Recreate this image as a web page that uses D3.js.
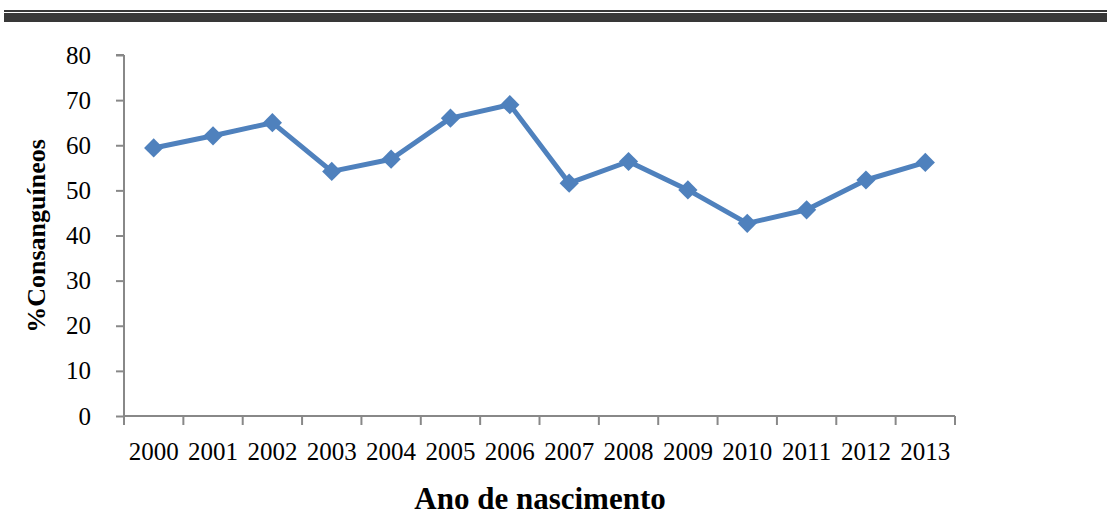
<!DOCTYPE html>
<html>
<head>
<meta charset="utf-8">
<script src="https://cdn.jsdelivr.net/npm/d3@7"></script>
<style>
  body { margin: 0; background: #fff; }
  svg { display: block; }
  .tick text { font-family: "Liberation Serif", serif; font-size: 25px; fill: #000; }
</style>
</head>
<body>
<svg id="chart"></svg>
<script>
const years = ['2000', '2001', '2002', '2003', '2004', '2005', '2006', '2007', '2008', '2009', '2010', '2011', '2012', '2013'];
const values = [59.4, 62.1, 65.0, 54.2, 56.9, 66.0, 69.0, 51.6, 56.4, 50.1, 42.7, 45.7, 52.3, 56.2];
const yTicks = [0, 10, 20, 30, 40, 50, 60, 70, 80];

const W = 1107;
const H = 515;
const MARGIN = { left: 124, right: 152, top: 55, bottom: 99 };
const plotW = W - MARGIN.left - MARGIN.right;
const plotH = H - MARGIN.top - MARGIN.bottom;
const axisColor = '#888';
const lineColor = '#4F81BD';

const svg = d3.select('#chart').attr('width', W).attr('height', H);

// Decorative header rules
svg.append('rect').attr('x', 4).attr('y', 10).attr('width', W - 4).attr('height', 2).attr('fill', '#383838');
svg.append('rect').attr('x', 4).attr('y', 13).attr('width', W - 4).attr('height', 9).attr('fill', '#383838');

const g = svg.append('g').attr('transform', `translate(${MARGIN.left}, ${MARGIN.top})`);

const x = d3.scaleBand().domain(years).range([0, plotW]);
const y = d3.scaleLinear().domain([0, 80]).range([plotH, 0]);

// Y axis
const yAxis = g.append('g')
  .call(d3.axisLeft(y).tickValues(yTicks).tickSize(8).tickPadding(25));
yAxis.selectAll('line, path').attr('stroke', axisColor).attr('stroke-width', 2);
yAxis.select('.domain').attr('d', `M0,${plotH}V0M-8,0H0`);
yAxis.selectAll('.tick text').attr('dy', '0.32em');

// X axis with ticks on category boundaries
const xAxis = g.append('g')
  .attr('transform', `translate(0, ${plotH})`)
  .call(d3.axisBottom(x).tickSize(0).tickPadding(26));
xAxis.select('.domain').attr('stroke', axisColor).attr('stroke-width', 2).attr('d', `M0,0H${plotW}`);
xAxis.selectAll('.tick text').attr('dy', '0.71em');
const bounds = years.map(d => x(d)).concat([plotW]);
xAxis.selectAll('.bound')
  .data(bounds)
  .join('line')
  .attr('class', 'bound')
  .attr('x1', d => d).attr('x2', d => d)
  .attr('y1', 0).attr('y2', 9)
  .attr('stroke', axisColor)
  .attr('stroke-width', 2);

// Line
const line = d3.line()
  .x((d, i) => x(years[i]) + x.bandwidth() / 2)
  .y(d => y(d));

g.append('path')
  .datum(values)
  .attr('d', line)
  .attr('fill', 'none')
  .attr('stroke', lineColor)
  .attr('stroke-width', 5)
  .attr('stroke-linejoin', 'round');

// Diamond markers
const diamond = d3.symbol().type(d3.symbolSquare).size(185);
g.selectAll('.marker')
  .data(values)
  .join('path')
  .attr('class', 'marker')
  .attr('d', diamond)
  .attr('transform', (d, i) => `translate(${x(years[i]) + x.bandwidth() / 2}, ${y(d)}) rotate(45)`)
  .attr('fill', lineColor);

// Axis titles
svg.append('text')
  .attr('x', 540)
  .attr('y', 509)
  .attr('text-anchor', 'middle')
  .style('font-family', '"Liberation Serif", serif')
  .style('font-weight', 'bold')
  .style('font-size', '31px')
  .text('Ano de nascimento');

svg.append('text')
  .attr('transform', 'translate(45, 236) rotate(-90)')
  .attr('text-anchor', 'middle')
  .style('font-family', '"Liberation Serif", serif')
  .style('font-weight', 'bold')
  .style('font-size', '26px')
  .text('%Consanguíneos');
</script>
</body>
</html>
